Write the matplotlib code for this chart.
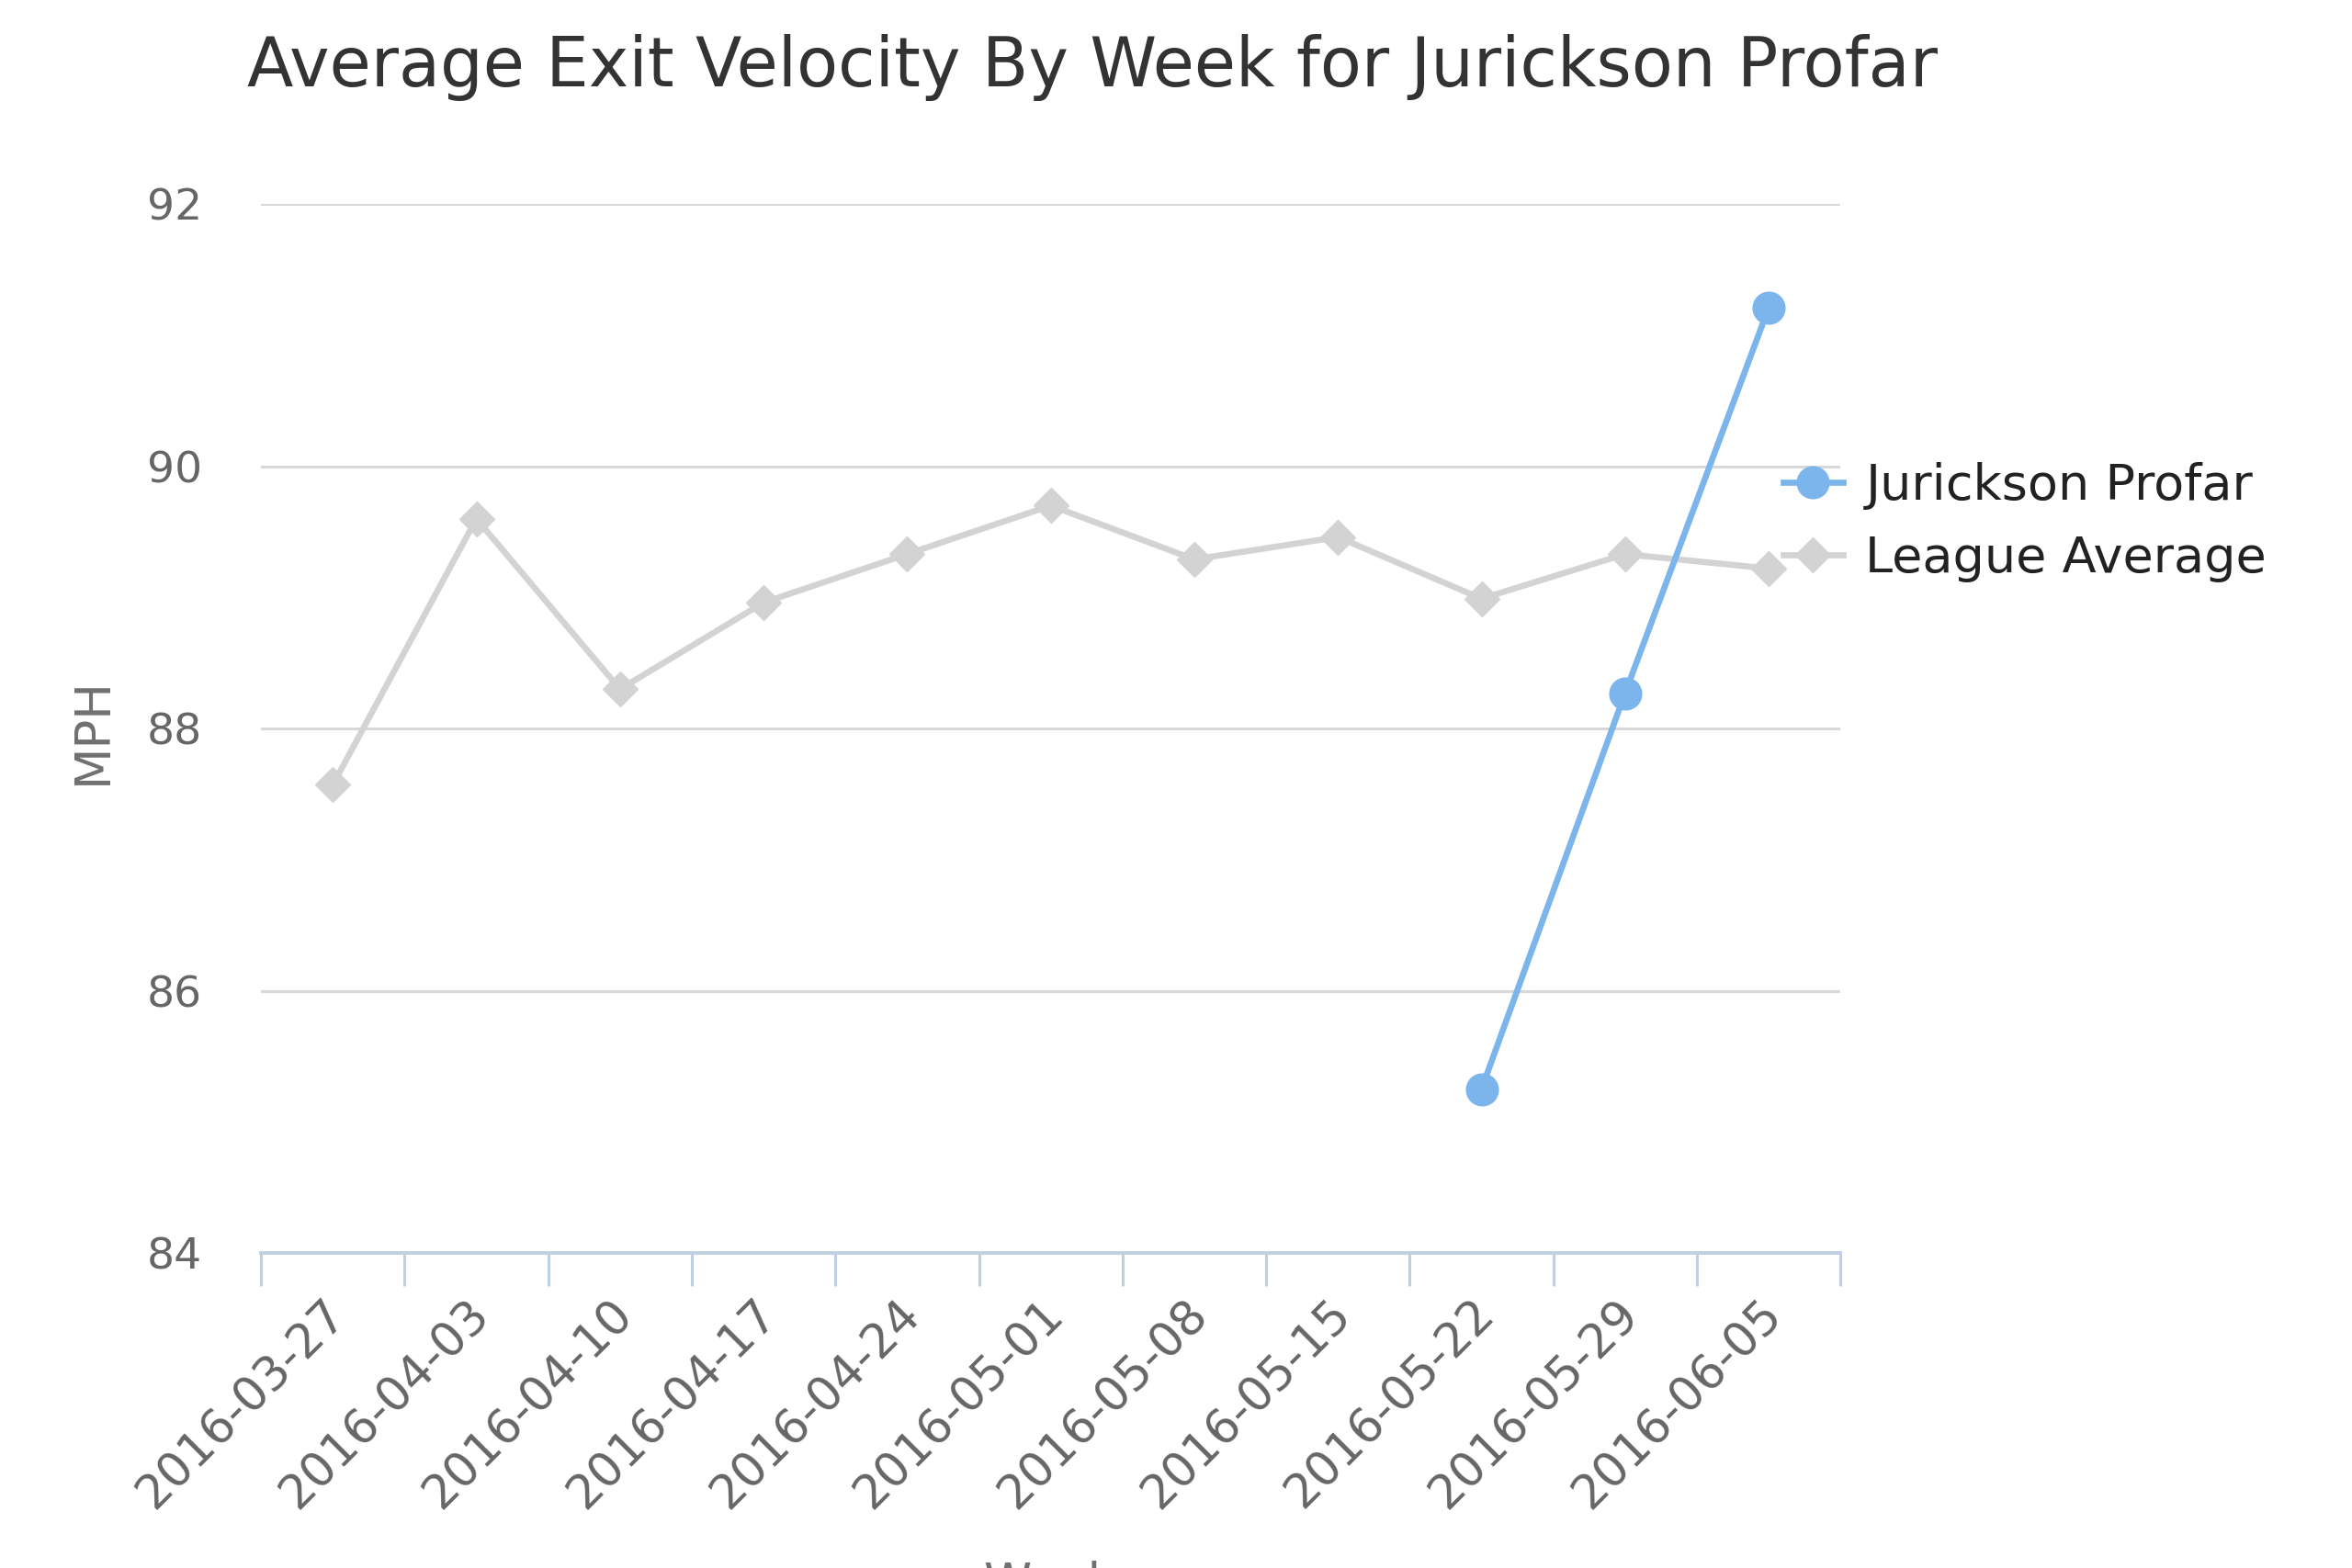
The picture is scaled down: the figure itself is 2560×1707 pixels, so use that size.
import numpy as np
from matplotlib import pyplot as plt
from matplotlib import transforms

# weekly categories and values
weeks = ['2016-03-27', '2016-04-03', '2016-04-10', '2016-04-17', '2016-04-24',
         '2016-05-01', '2016-05-08', '2016-05-15', '2016-05-22', '2016-05-29',
         '2016-06-05']
league_avg = [87.57, 89.60, 88.30, 88.96, 89.33, 89.70, 89.29, 89.46, 88.99,
              89.33, 89.22]
profar_weeks = ['2016-05-22', '2016-05-29', '2016-06-05']
profar = [85.25, 88.27, 91.21]
y_ticks = [84, 86, 88, 90, 92]

W, H = 2560, 1707
DW, DH = 1568, 1045  # layout measured on a scaled-down copy
fig = plt.figure(figsize=(W / 100, H / 100), dpi=100)
ax = fig.add_axes([174 / DW, 1 - 835 / DH, (1227 - 174) / DW, (835 - 136) / DH])

x = np.arange(len(weeks))
px = np.array([weeks.index(w) for w in profar_weeks])

ax.plot(x, league_avg, color='#d3d3d3', lw=4.8, marker='D', ms=19,
        label='League Average', zorder=3)
ax.plot(px, profar, color='#7cb5ec', lw=4.8, marker='o', ms=25,
        label='Jurickson Profar', zorder=4)

ax.set_xlim(-0.5, len(weeks) - 0.5)
ax.set_ylim(84, 92)
ax.set_yticks(y_ticks)
ax.yaxis.grid(True, color='#d8d8d8', lw=2.2)
ax.set_axisbelow(True)

for s in ['top', 'right', 'left']:
    ax.spines[s].set_visible(False)
ax.spines['bottom'].set_color('#c0d0e0')
ax.spines['bottom'].set_linewidth(2.8)

ax.set_xticks(x)
ax.set_xticklabels(weeks, rotation=45, ha='right', rotation_mode='anchor',
                   fontsize=37, color='#666666')
ax.set_xticks(np.arange(len(weeks) + 1) - 0.5, minor=True)
ax.tick_params(axis='x', which='major', length=0, pad=30)
ax.tick_params(axis='x', which='minor', length=26, width=2.2, color='#c0d0e0',
               direction='out')
ax.tick_params(axis='y', length=0, labelsize=34, labelcolor='#666666', pad=46)

# nudge the slanted labels a little to the left
shift = transforms.ScaledTranslation(-0.11, 0, fig.dpi_scale_trans)
for lab in ax.get_xticklabels():
    lab.set_transform(lab.get_transform() + shift)

fig.text(62 / DW, 1 - 487 / DH, 'MPH', rotation=90, fontsize=38, color='#707070',
         ha='center', va='center')
fig.text(700 / DW, 8 / H, 'Week', fontsize=38, color='#707070', ha='center',
         va='top')

fig.text(165 / DW, 1 - 45 / DH, 'Average Exit Velocity By Week for Jurickson Profar',
         fontsize=53, color='#333333', ha='left', va='center')

handles, labels = ax.get_legend_handles_labels()
leg = fig.legend(handles[::-1], labels[::-1], loc='center left',
                 bbox_to_anchor=(1159 / DW, 1 - 348 / DH), frameon=False,
                 fontsize=39, handlelength=1.2, handletextpad=0.45,
                 labelspacing=0.5)
for t in leg.get_texts():
    t.set_color('#222222')

fig.savefig('out.png', dpi=100)
